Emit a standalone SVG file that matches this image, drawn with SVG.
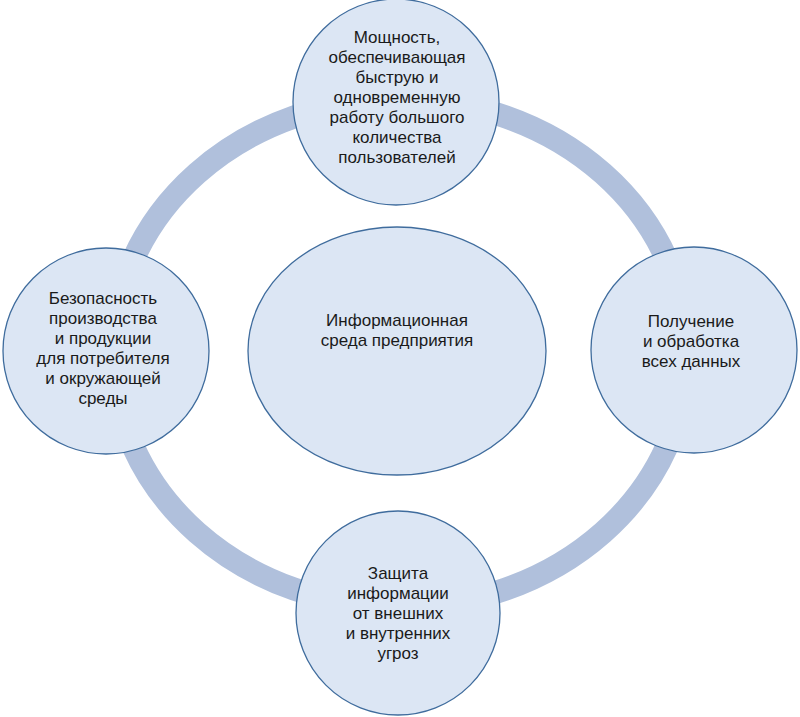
<svg xmlns="http://www.w3.org/2000/svg" width="800" height="717" viewBox="0 0 800 717">
<style>
.node{fill:#dce6f4;stroke:#3f6c9d;stroke-width:1.3}
.ring{fill:none;stroke:#b0c0dc;stroke-width:23}
text{font-family:"Liberation Sans",Arial,sans-serif;font-size:17px;fill:#1a1a1a;text-anchor:middle}
</style>
<rect width="800" height="717" fill="#ffffff"/>
<g id="connectors">
<ellipse class="ring" cx="400" cy="353" rx="287" ry="254"/>
</g>
<g id="center">
<ellipse class="node" cx="397" cy="351" rx="149" ry="124"/>
<text x="397" y="326">Информационная</text>
<text x="397" y="346">среда предприятия</text>
</g>
<g id="top">
<circle class="node" cx="396" cy="102" r="103"/>
<text x="397" y="43">Мощность,</text>
<text x="397" y="63">обеспечивающая</text>
<text x="397" y="83">быструю и</text>
<text x="397" y="103">одновременную</text>
<text x="397" y="123">работу большого</text>
<text x="397" y="143">количества</text>
<text x="397" y="163">пользователей</text>
</g>
<g id="left">
<circle class="node" cx="106" cy="351" r="103"/>
<text x="103" y="304">Безопасность</text>
<text x="103" y="324">производства</text>
<text x="103" y="344">и продукции</text>
<text x="103" y="364">для потребителя</text>
<text x="103" y="384">и окружающей</text>
<text x="103" y="404">среды</text>
</g>
<g id="right">
<circle class="node" cx="694" cy="350" r="103"/>
<text x="691" y="327">Получение</text>
<text x="691" y="347">и обработка</text>
<text x="691" y="367">всех данных</text>
</g>
<g id="bottom">
<circle class="node" cx="398" cy="613" r="102"/>
<text x="398" y="579">Защита</text>
<text x="398" y="599">информации</text>
<text x="398" y="619">от внешних</text>
<text x="398" y="639">и внутренних</text>
<text x="398" y="659">угроз</text>
</g>
</svg>
